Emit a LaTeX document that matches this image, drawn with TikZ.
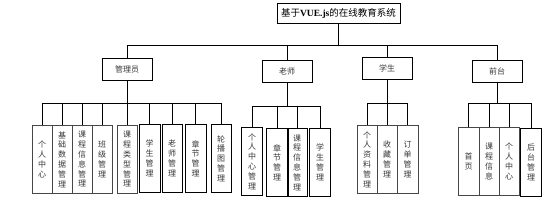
\documentclass[tikz,border=0pt]{standalone}
\usepackage{fontspec}
\setmainfont{Noto Sans CJK SC}
\newfontfamily\latinserif{Liberation Serif}
\usetikzlibrary{positioning}
\definecolor{boxline}{RGB}{70,70,70}
\definecolor{labelgray}{RGB}{55,55,55}

\begin{document}
\begin{tikzpicture}[x=1pt,y=-1pt,
 rootbox/.style={draw,line width=.8pt,minimum width=123pt,minimum height=20pt,inner sep=0pt,font=\fontsize{9.5}{11}\selectfont},
 rolebox/.style={draw,line width=.8pt,minimum width=50pt,minimum height=22pt,inner sep=0pt,text=labelgray,font=\fontsize{8}{9}\selectfont},
 leafbox/.style={draw=boxline,line width=.7pt,minimum width=20pt,minimum height=68pt,inner sep=0pt,anchor=north,align=center,text=labelgray,font=\fontsize{8}{9.8}\selectfont},
 leafbold/.style={leafbox,draw=black,line width=.95pt},
 link/.style={line width=.8pt}]
 \useasboundingbox (0,0) rectangle (557,208);
 % top level
 \node[rootbox] (root) at (338.5,13) {基于{\latinserif\bfseries VUE.js}的在线教育系统};
 \node[rolebox] (adm) at (127,69) {管理员};
 \node[rolebox] (tea) at (287,71.5) {老师};
 \node[rolebox] (stu) at (387,68.5) {学生};
 \node[rolebox] (fro) at (497,71) {前台};
 \coordinate (b0) at (338.5,45);
 \draw[link] (root.south) -- (b0);
 \foreach \r in {adm,tea,stu,fro} \draw[link] (b0) -| (\r.north);
 % 管理员
 \node[leafbox] (a1) at (42,125) {个\\人\\中\\心};
 \node[leafbox] (a2) at (62,125) {基\\础\\数\\据\\管\\理};
 \node[leafbox] (a3) at (82,125) {课\\程\\信\\息\\管\\理};
 \node[leafbox] (a4) at (102,125) {班\\级\\管\\理};
 \node[leafbox] (a5) at (127,125) {课\\程\\类\\型\\管\\理};
 \node[leafbold,minimum width=21pt] (a6) at (149.5,124) {学\\生\\管\\理};
 \node[leafbold] (a7) at (172,124) {老\\师\\管\\理};
 \node[leafbold,minimum width=21pt] (a8) at (195.5,124) {章\\节\\管\\理};
 \node[leafbold] (a9) at (221,124) {轮\\播\\图\\管\\理};
 \coordinate (ba) at (127,103);
 \draw[link] (adm.south) -- (ba);
 \foreach \c in {a1,a2,a3,a4,a5,a6,a7,a8,a9} \draw[link] (ba) -| (\c.north);
 % 老师
 \node[leafbold,minimum width=21pt] (t1) at (252,127) {个\\人\\中\\心\\管\\理};
 \node[leafbold,minimum width=22pt] (t2) at (277,128) {章\\节\\管\\理};
 \node[leafbold] (t3) at (297,128) {课\\程\\信\\息\\管\\理};
 \node[leafbold,minimum width=21pt] (t4) at (320,128) {学\\生\\管\\理};
 \coordinate (bt) at (287,106);
 \draw[link] (tea.south) -- (bt);
 \foreach \c in {t1,t2,t3,t4} \draw[link] (bt) -| (\c.north);
 % 学生
 \node[leafbox] (s1) at (367,125) {个\\人\\资\\料\\管\\理};
 \node[leafbox] (s2) at (387,125) {收\\藏\\管\\理};
 \node[leafbox,minimum width=21pt] (s3) at (407.5,125) {订\\单\\管\\理};
 \coordinate (bs) at (387,103);
 \draw[link] (stu.south) -- (bs);
 \foreach \c in {s1,s2,s3} \draw[link] (bs) -| (\c.north);
 % 前台
 \node[leafbox,minimum width=21pt] (f1) at (468.5,127) {首\\页};
 \node[leafbox] (f2) at (489,127) {课\\程\\信\\息};
 \node[leafbox] (f3) at (509,127) {个\\人\\中\\心};
 \node[leafbold,minimum width=21pt] (f4) at (531,128) {后\\台\\管\\理};
 \coordinate (bf) at (497,103);
 \draw[link] (fro.south) -- (bf);
 \foreach \c in {f1,f2,f3,f4} \draw[link] (bf) -| (\c.north);
\end{tikzpicture}
\end{document}
